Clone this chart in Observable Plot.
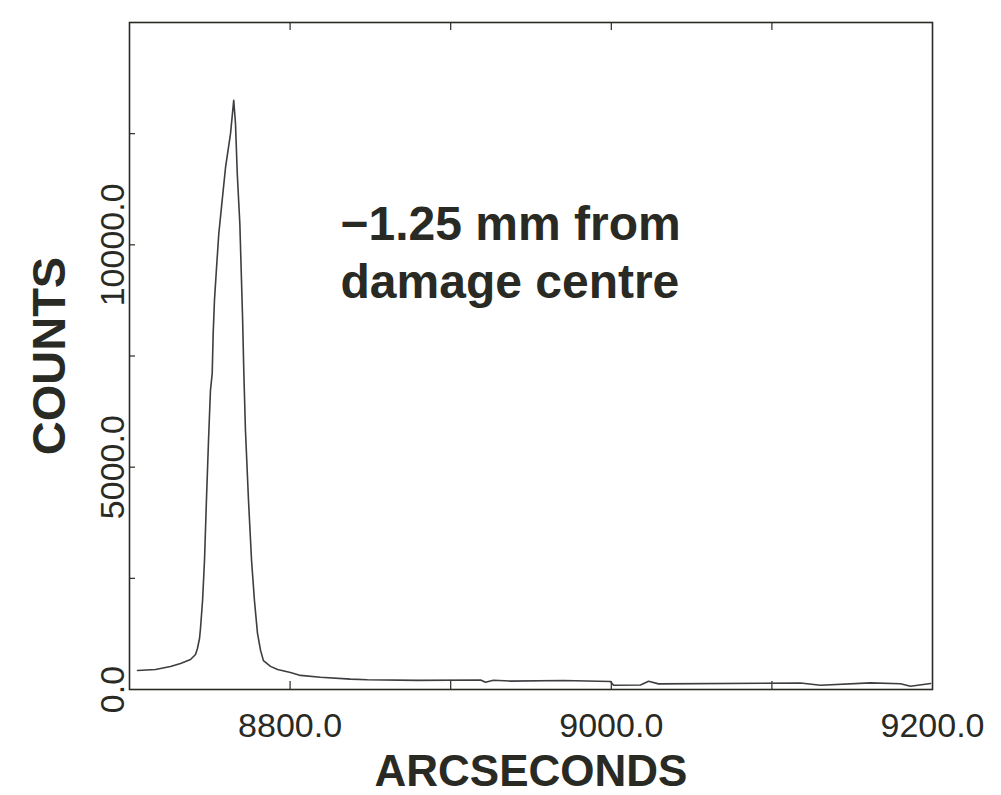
<!DOCTYPE html>
<html>
<head>
<meta charset="utf-8">
<script src="https://cdn.jsdelivr.net/npm/d3@7"></script>
<script src="https://cdn.jsdelivr.net/npm/@observablehq/plot@0.6"></script>
<style>
  html, body { margin: 0; padding: 0; background: #fff; }
  #chart svg { display: block; }
</style>
</head>
<body>
<div id="chart"></div>
<script>
// Data
const arcsec = [
  8705.0, 8716.2, 8725.5, 8731.8, 8738.0, 8741.1, 8742.3, 8743.6, 8744.2, 8744.8,
  8745.5, 8746.7, 8747.9, 8749.2, 8750.4, 8751.5, 8752.1, 8752.9, 8754.2, 8755.6,
  8757.7, 8759.8, 8762.9, 8764.9, 8766.0, 8767.1, 8768.7, 8769.6, 8770.4, 8771.2,
  8772.2, 8774.1, 8776.0, 8777.8, 8779.7, 8781.6, 8783.4, 8787.8, 8792.2, 8800.2,
  8806.5, 8818.9, 8837.6, 8848.2, 8879.3, 8918.6, 8921.7, 8926.6, 8937.2, 8970.2,
  8999.5, 9001.4, 9018.2, 9023.2, 9029.4, 9117.8, 9130.3, 9161.4, 9180.1, 9186.3,
  9198.8
];
const counts = [
  427, 450, 517, 585, 675, 787, 922, 1147, 1372, 1664,
  2002, 2900, 4250, 5600, 6720, 7110, 8000, 8750, 9490, 10250,
  11000, 11740, 12500, 13250, 12730, 11600, 10480, 9360, 8370, 7110,
  5830, 4250, 2900, 2000, 1260, 880, 650, 520, 448, 382,
  317, 274, 234, 220, 205, 214, 162, 209, 189, 202,
  180, 97, 101, 184, 126, 146, 97, 148, 130, 72,
  135
];
const xTickLabels = [8800, 9000, 9200];
const xTickMarks = [8800, 8900, 9000, 9100];
const yTickLabels = [0, 5000, 10000];
const yTickMarks = [2500, 5000, 7500, 10000, 12500];
const xTitle = "ARCSECONDS";
const yTitle = "COUNTS";
const note = "\u22121.25 mm from\ndamage centre";

const data = arcsec.map((x, i) => ({x, y: counts[i]}));

const W = 1001, H = 795;
const mL = 129, mR = 69, mT = 22, mB = 106;
const plotW = W - mL - mR, plotH = H - mT - mB;
const ink = "#2a2a24";
const fmt = d => d.toFixed(1);

const chart = Plot.plot({
  width: W,
  height: H,
  marginLeft: mL,
  marginRight: mR,
  marginTop: mT,
  marginBottom: mB,
  style: {fontFamily: "'Liberation Sans', Arial, sans-serif", color: ink, background: "#fff"},
  x: {domain: [8700, 9200]},
  y: {domain: [0, 15000]},
  marks: [
    Plot.frame({stroke: ink, strokeWidth: 1.6}),
    // inner tick marks
    Plot.ruleX(xTickMarks, {x: d => d, insetTop: plotH - 8, stroke: ink, strokeWidth: 1.2}),
    Plot.ruleX(xTickMarks, {x: d => d, insetBottom: plotH - 8, stroke: ink, strokeWidth: 1.2}),
    Plot.ruleY(yTickMarks, {y: d => d, insetRight: plotW - 6, stroke: ink, strokeWidth: 1.2}),
    Plot.axisX({ticks: xTickLabels, tickFormat: fmt, tickSize: 0, tickPadding: 23, fontSize: 34, label: null, fill: ink}),
    Plot.axisY({ticks: yTickLabels, tickFormat: fmt, tickSize: 0, tickPadding: 6, tickRotate: -90, fontSize: 34, label: null, fill: ink}),
    Plot.line(data, {x: "x", y: "y", stroke: "#3d3d42", strokeWidth: 1.6}),
    Plot.text([xTitle], {text: d => d, frameAnchor: "bottom", dy: 96, textAnchor: "middle", lineAnchor: "bottom", fontSize: 44, fontWeight: "bold", fill: ink}),
    Plot.text([yTitle], {text: d => d, frameAnchor: "left", dx: -80, rotate: -90, textAnchor: "middle", lineAnchor: "middle", fontSize: 47, fontWeight: "bold", fill: ink}),
    Plot.text([note], {text: d => d, frameAnchor: "top-left", dx: 211, dy: 177, textAnchor: "start", lineAnchor: "top", lineHeight: 1.2, fontSize: 48, fontWeight: "bold", fill: ink})
  ]
});
document.getElementById("chart").appendChild(chart);
</script>
</body>
</html>
